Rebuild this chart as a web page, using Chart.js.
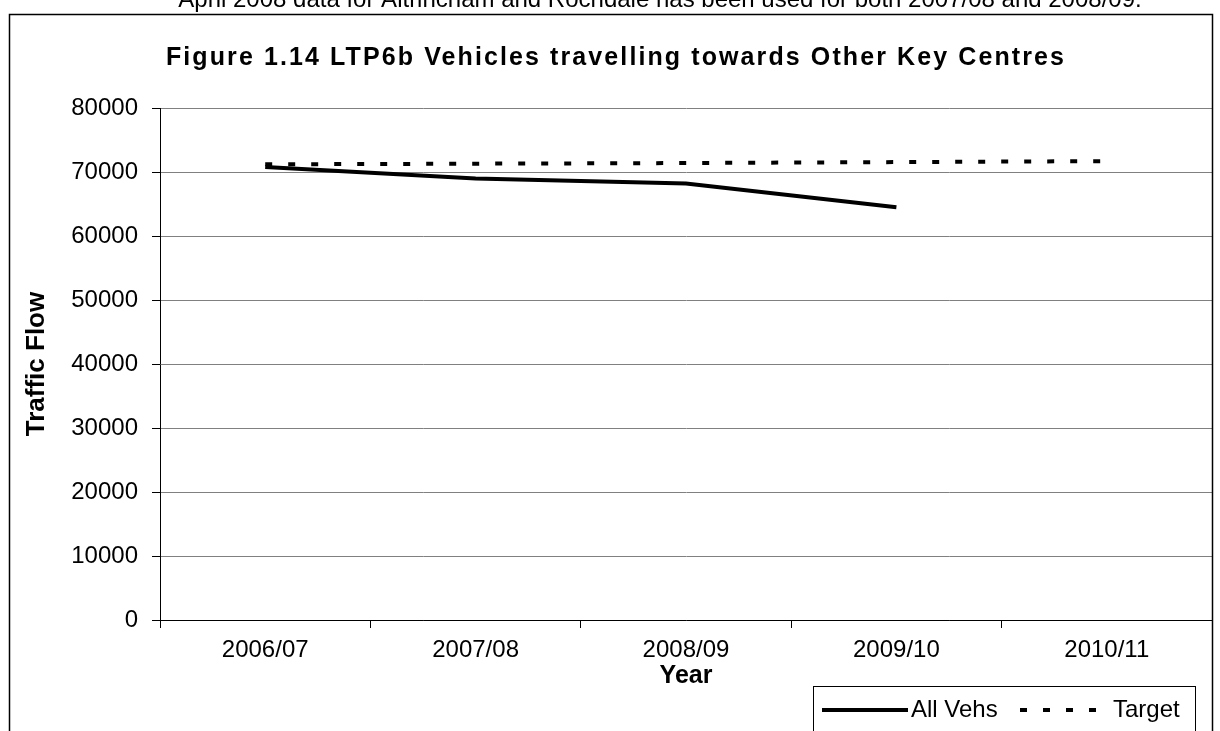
<!DOCTYPE html>
<html>
<head>
<meta charset="utf-8">
<script src="https://cdn.jsdelivr.net/npm/chart.js@4.4.0/dist/chart.umd.min.js"></script>
<style>
  html, body { margin: 0; padding: 0; background: #fff; }
  #wrap { width: 1220px; height: 731px; }
</style>
</head>
<body>
<div id="wrap"><canvas id="myChart" width="1220" height="731"></canvas></div>
<script>
const years = ['2006/07', '2007/08', '2008/09', '2009/10', '2010/11'];
const allVehs = [70800, 69000, 68200, 64500, null];
const target = [71200, 71300, 71400, 71550, 71700];
const yMin = 0;
const yMax = 80000;
const yStep = 10000;

const noteText = 'April 2008 data for Altrincham and Rochdale has been used for both 2007/08 and 2008/09.';
const chartTitle = 'Figure 1.14 LTP6b Vehicles travelling towards Other Key Centres';

const FONT = '"Liberation Sans", Arial, sans-serif';
Chart.defaults.font.family = FONT;
Chart.defaults.color = '#000';

// frame, title, top note and the legend box (Excel style)
const framePlugin = {
    id: 'frame',
    afterDraw(chart) {
        const c = chart.ctx;
        c.save();
        // note cut off at the top of the page
        c.fillStyle = '#000';
        c.font = '24px ' + FONT;
        c.textAlign = 'center';
        c.textBaseline = 'alphabetic';
        c.fillText(noteText, 660, 7);

        // outer chart border
        c.strokeStyle = '#000';
        c.lineWidth = 1.5;
        c.strokeRect(9.5, 14.5, 1203, 760);

        // title
        c.font = 'bold 25px ' + FONT;
        c.letterSpacing = '2.1px';
        c.fillText(chartTitle, 616, 65);
        c.letterSpacing = '0px';

        // legend
        c.lineWidth = 1;
        c.strokeRect(813.5, 686.5, 382, 60);
        c.font = '24px ' + FONT;
        c.textAlign = 'left';
        c.textBaseline = 'middle';
        const ly = 710;
        c.lineWidth = 4;
        c.beginPath();
        c.moveTo(822, ly);
        c.lineTo(908, ly);
        c.stroke();
        c.fillText(chart.data.datasets[0].label, 911, ly);
        c.setLineDash([7, 16]);
        c.beginPath();
        c.moveTo(1020, ly);
        c.lineTo(1106, ly);
        c.stroke();
        c.setLineDash([]);
        c.fillText(chart.data.datasets[1].label, 1113, ly);
        c.restore();
    }
};

const ctx = document.getElementById('myChart').getContext('2d');
const myChart = new Chart(ctx, {
    type: 'line',
    data: {
        labels: years,
        datasets: [
            {
                label: 'All Vehs',
                data: allVehs,
                borderColor: '#000',
                borderWidth: 4,
                pointRadius: 0,
                tension: 0,
                spanGaps: false
            },
            {
                label: 'Target',
                data: target,
                borderColor: '#000',
                borderWidth: 4,
                borderDash: [7, 16],
                pointRadius: 0,
                tension: 0
            }
        ]
    },
    options: {
        responsive: false,
        animation: false,
        layout: {
            padding: { left: 0, top: 108, right: 8, bottom: 0 }
        },
        scales: {
            x: {
                offset: true,
                grid: {
                    offset: true,
                    drawOnChartArea: false,
                    tickLength: 8,
                    tickColor: '#000'
                },
                border: { color: '#000', width: 1 },
                ticks: {
                    font: { size: 24 },
                    padding: 8,
                    maxRotation: 0
                },
                title: {
                    display: true,
                    text: 'Year',
                    font: { size: 25, weight: 'bold', lineHeight: 1 },
                    padding: { top: 0, bottom: 42 }
                },
                afterFit(scale) {
                    scale.height = 111;
                }
            },
            y: {
                min: yMin,
                max: yMax,
                grid: {
                    color: '#808080',
                    tickLength: 8,
                    tickColor: '#000'
                },
                border: { color: '#000', width: 1 },
                ticks: {
                    stepSize: yStep,
                    font: { size: 24 },
                    padding: 14,
                    callback: v => String(v)
                },
                title: {
                    display: true,
                    text: 'Traffic Flow',
                    font: { size: 26, weight: 'bold', lineHeight: 1 },
                    padding: { top: 24, bottom: 0 }
                },
                afterFit(scale) {
                    scale.width = 160;
                }
            }
        },
        plugins: {
            legend: { display: false },
            title: { display: false },
            tooltip: { enabled: false }
        }
    },
    plugins: [framePlugin]
});
</script>
</body>
</html>
